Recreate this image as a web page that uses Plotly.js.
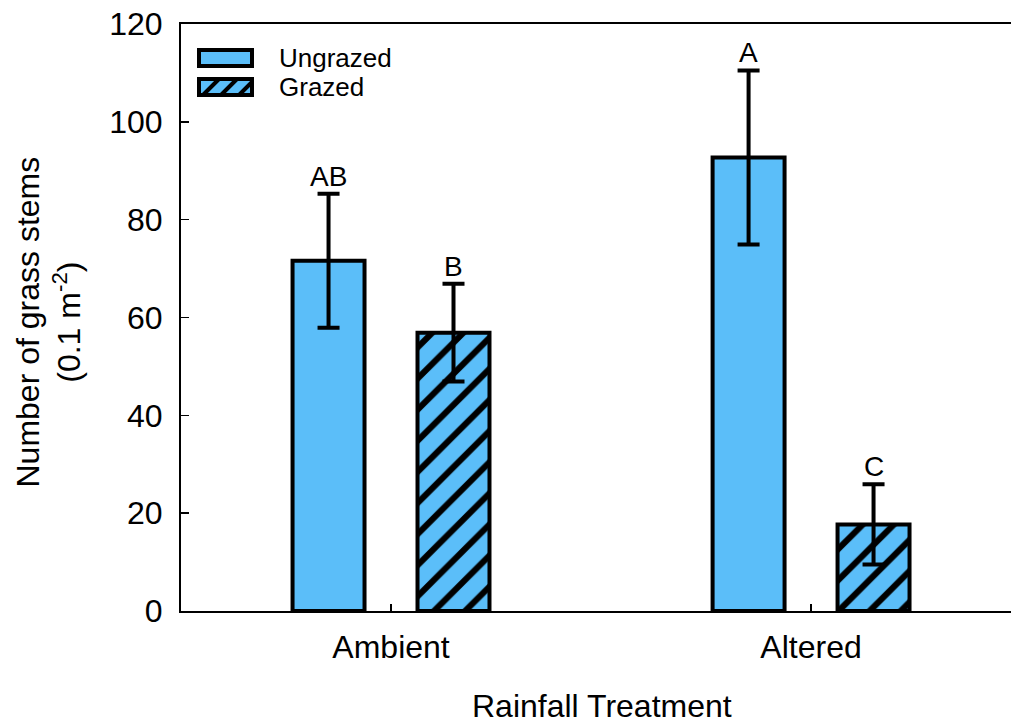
<!DOCTYPE html>
<html>
<head>
<meta charset="utf-8">
<script src="https://cdn.plot.ly/plotly-3.0.1.min.js"></script>
<style>html,body{margin:0;padding:0;background:#fff;}#chart{width:1011px;height:724px;}</style>
</head>
<body>
<div id="chart"></div>
<script>
// ---- data ----
const categories = ["Ambient", "Altered"];
const seriesNames = ["Ungrazed", "Grazed"];
const ungrazedMean = [71.6, 92.7];
const ungrazedErr = [13.7, 17.8];
const grazedMean = [56.9, 17.7];
const grazedErr = [10.0, 8.2];
const ungrazedLetters = ["AB", "A"];
const grazedLetters = ["B", "C"];
const yTicks = [0, 20, 40, 60, 80, 100, 120];

// ---- style ----
const FONT = "Liberation Sans, Arial, sans-serif";
const BLUE = "#5BBEF9";
const BARGAP = 0.405;
const BARGROUPGAP = 0.424;
const groupOffset = (1 - BARGAP) / 4;

const traces = [
  {
    type: "bar", name: seriesNames[0], x: categories, y: ungrazedMean,
    marker: {color: BLUE, line: {color: "#000", width: 4}},
    error_y: {type: "data", array: ungrazedErr, visible: true, color: "#000", thickness: 4, width: 11}
  },
  {
    type: "bar", name: seriesNames[1], x: categories, y: grazedMean,
    marker: {color: BLUE, line: {color: "#000", width: 4},
      pattern: {shape: "/", fgcolor: "#000", bgcolor: BLUE, fgopacity: 1, size: 22, solidity: 0.28, fillmode: "replace"}},
    error_y: {type: "data", array: grazedErr, visible: true, color: "#000", thickness: 4, width: 11}
  }
];

const annotations = [];
categories.forEach((c, i) => {
  annotations.push({x: i - groupOffset, y: ungrazedMean[i] + ungrazedErr[i], xref: "x", yref: "y",
    text: ungrazedLetters[i], showarrow: false, yanchor: "bottom", yshift: 0, font: {family: FONT, size: 28, color: "#000"}});
  annotations.push({x: i + groupOffset, y: grazedMean[i] + grazedErr[i], xref: "x", yref: "y",
    text: grazedLetters[i], showarrow: false, yanchor: "bottom", yshift: 0, font: {family: FONT, size: 28, color: "#000"}});
});
// axis titles
annotations.push({xref: "paper", yref: "paper", x: 0, y: 0.5, xshift: -133, yshift: -5, textangle: -90,
  text: "Number of grass stems<br>(0.1 m<sup>-2</sup>)", showarrow: false, xanchor: "center", yanchor: "middle",
  font: {family: FONT, size: 32, color: "#000"}});
annotations.push({xref: "paper", yref: "paper", x: 0.507, y: 0, yshift: -95, text: "Rainfall Treatment",
  showarrow: false, xanchor: "center", yanchor: "middle", font: {family: FONT, size: 32, color: "#000"}});
// legend labels
annotations.push({xref: "paper", yref: "paper", x: 0, y: 1, xshift: 96, yshift: -34, text: seriesNames[0],
  showarrow: false, xanchor: "left", yanchor: "middle", font: {family: FONT, size: 26, color: "#000"}});
annotations.push({xref: "paper", yref: "paper", x: 0, y: 1, xshift: 96, yshift: -63, text: seriesNames[1],
  showarrow: false, xanchor: "left", yanchor: "middle", font: {family: FONT, size: 26, color: "#000"}});

const pix = {xref: "paper", yref: "paper", xsizemode: "pixel", ysizemode: "pixel", xanchor: 0, yanchor: 1};
const shapes = [
  Object.assign({type: "rect", x0: 18, x1: 71, y0: -26, y1: -42, fillcolor: BLUE, line: {color: "#000", width: 4}}, pix),
  Object.assign({type: "rect", x0: 18, x1: 71, y0: -55, y1: -71, fillcolor: BLUE, line: {color: "#000", width: 0}}, pix),
  Object.assign({type: "path", path: "M22,-71L38,-55M40,-71L56,-55M58,-71L71,-58", line: {color: "#000", width: 4}}, pix),
  Object.assign({type: "rect", x0: 18, x1: 71, y0: -55, y1: -71, fillcolor: "rgba(0,0,0,0)", line: {color: "#000", width: 4}}, pix)
];

const layout = {
  width: 1011, height: 724,
  margin: {l: 181, r: 0, t: 24, b: 113},
  paper_bgcolor: "#fff", plot_bgcolor: "#fff",
  barmode: "group", bargap: BARGAP, bargroupgap: BARGROUPGAP,
  showlegend: false,
  font: {family: FONT, color: "#000"},
  xaxis: {
    type: "category", range: [-0.5, 1.476], showgrid: false, zeroline: false,
    showline: true, linecolor: "#000", linewidth: 2, mirror: true,
    ticks: "inside", ticklen: 7, tickwidth: 1.5, tickcolor: "#000",
    tickfont: {family: FONT, size: 32, color: "#000"}, ticklabelstandoff: 7
  },
  yaxis: {
    range: [0, 120], tickvals: yTicks, ticktext: yTicks.map(String), showgrid: false, zeroline: false,
    showline: true, linecolor: "#000", linewidth: 2,
    ticks: "inside", ticklen: 8, tickwidth: 1.5, tickcolor: "#000",
    tickfont: {family: FONT, size: 32, color: "#000"}, ticklabelstandoff: 10
  },
  annotations: annotations,
  shapes: shapes
};

Plotly.newPlot("chart", traces, layout, {displayModeBar: false, staticPlot: true});
</script>
</body>
</html>
